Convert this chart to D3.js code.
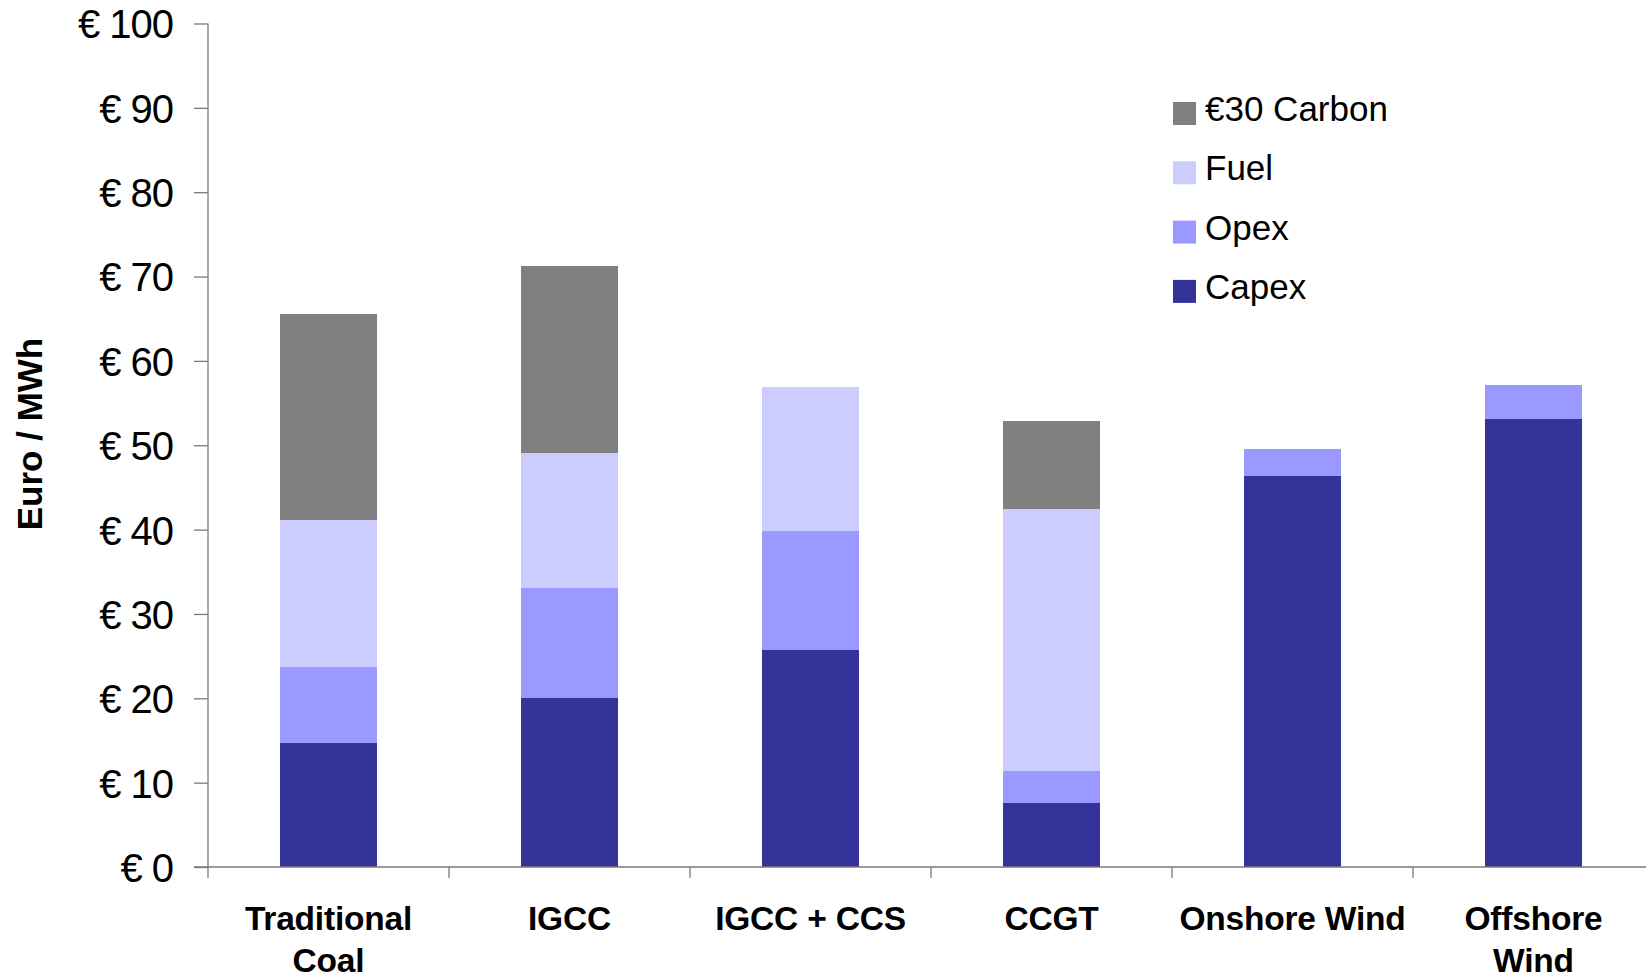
<!DOCTYPE html>
<html>
<head>
<meta charset="utf-8">
<script src="https://cdn.jsdelivr.net/npm/d3@7"></script>
<style>
  html, body { margin: 0; padding: 0; background: #fff; }
  svg { display: block; }
  text { font-family: "Liberation Sans", Arial, sans-serif; fill: #000; }
</style>
</head>
<body>
<svg id="chart" width="1646" height="979"></svg>
<script>
// ---- data ----
const categories = ["Traditional Coal", "IGCC", "IGCC + CCS", "CCGT", "Onshore Wind", "Offshore Wind"];
const categoryLines = [["Traditional", "Coal"], ["IGCC"], ["IGCC + CCS"], ["CCGT"], ["Onshore Wind"], ["Offshore", "Wind"]];
const seriesNames = ["Capex", "Opex", "Fuel", "€30 Carbon"];
const capex  = [14.7, 20.0, 25.7, 7.6, 46.4, 53.1];
const opex   = [9.0, 13.1, 14.1, 3.8, 3.2, 4.0];
const fuel   = [17.4, 16.0, 17.1, 31.0, 0, 0];
const carbon = [24.5, 22.2, 0, 10.5, 0, 0];
const yTicks = [0, 10, 20, 30, 40, 50, 60, 70, 80, 90, 100];
const colors = ["#333399", "#9999FF", "#CCCCFF", "#808080"];

const rows = categories.map((c, i) => ({
  category: c,
  "Capex": capex[i], "Opex": opex[i], "Fuel": fuel[i], "€30 Carbon": carbon[i]
}));

const svg = d3.select("#chart");
const x0 = 208, x1 = 1654, yTop = 23.5, yBase = 867;

const x = d3.scaleBand().domain(categories).range([x0, x1]).paddingInner(0.6).paddingOuter(0.3);
const y = d3.scaleLinear().domain([0, 100]).range([yBase, yTop]);
const color = d3.scaleOrdinal().domain(seriesNames).range(colors);

const stacked = d3.stack().keys(seriesNames)(rows);

// bars
svg.append("g").selectAll("g").data(stacked).join("g")
  .attr("fill", d => color(d.key))
  .selectAll("rect").data(d => d).join("rect")
  .attr("x", d => x(d.data.category))
  .attr("width", x.bandwidth())
  .attr("y", d => y(d[1]))
  .attr("height", d => Math.max(0, y(d[0]) - y(d[1])))
  .attr("shape-rendering", "crispEdges");

// y axis
const yAxis = d3.axisLeft(y).tickValues(yTicks).tickSize(14).tickSizeOuter(0)
  .tickFormat(d => "€ " + d);
const gy = svg.append("g").attr("transform", `translate(${x0},0)`).call(yAxis);
gy.select(".domain").remove();
gy.selectAll(".tick line").attr("stroke", "#7a7a7a").attr("stroke-width", 1.3);
gy.selectAll(".tick text")
  .attr("x", -35).attr("dy", "0.36em")
  .style("font-size", "40px").style("letter-spacing", "-1px")
  .attr("fill", "#000");

// axis lines
svg.append("line").attr("x1", x0).attr("x2", x0).attr("y1", y(100)).attr("y2", yBase + 11)
  .attr("stroke", "#7a7a7a").attr("stroke-width", 1.3);
svg.append("line").attr("x1", x0 - 14).attr("x2", x1).attr("y1", yBase).attr("y2", yBase)
  .attr("stroke", "#7a7a7a").attr("stroke-width", 1.3);

// x category ticks (boundaries)
const step = x.step();
const bounds = categories.map((c, i) => x(c) - (step - x.bandwidth()) / 2).slice(1);
svg.append("g").selectAll("line").data(bounds).join("line")
  .attr("x1", d => d).attr("x2", d => d).attr("y1", yBase).attr("y2", yBase + 11)
  .attr("stroke", "#7a7a7a").attr("stroke-width", 1.3);

// x labels
const xl = svg.append("g").selectAll("text").data(categories).join("text")
  .attr("text-anchor", "middle")
  .attr("x", d => x(d) + x.bandwidth() / 2)
  .attr("y", 930)
  .style("font-size", "33.5px").style("font-weight", "bold").style("letter-spacing", "-0.2px");
xl.each(function(d, i) {
  const t = d3.select(this);
  categoryLines[i].forEach((line, j) => {
    t.append("tspan").attr("x", x(d) + x.bandwidth() / 2).attr("dy", j === 0 ? 0 : 42).text(line);
  });
});

// y label
svg.append("text")
  .attr("transform", "translate(42,434) rotate(-90)")
  .attr("text-anchor", "middle")
  .style("font-size", "35px").style("font-weight", "bold")
  .text("Euro / MWh");

// legend
const legendOrder = seriesNames.slice().reverse();
const lg = svg.append("g").selectAll("g").data(legendOrder).join("g")
  .attr("transform", (d, i) => `translate(1173,${102 + i * 59.3})`);
lg.append("rect").attr("width", 23).attr("height", 23).attr("fill", d => color(d));
lg.append("text").attr("x", 32).attr("y", 19)
  .style("font-size", "35px")
  .text(d => d);
</script>
</body>
</html>
